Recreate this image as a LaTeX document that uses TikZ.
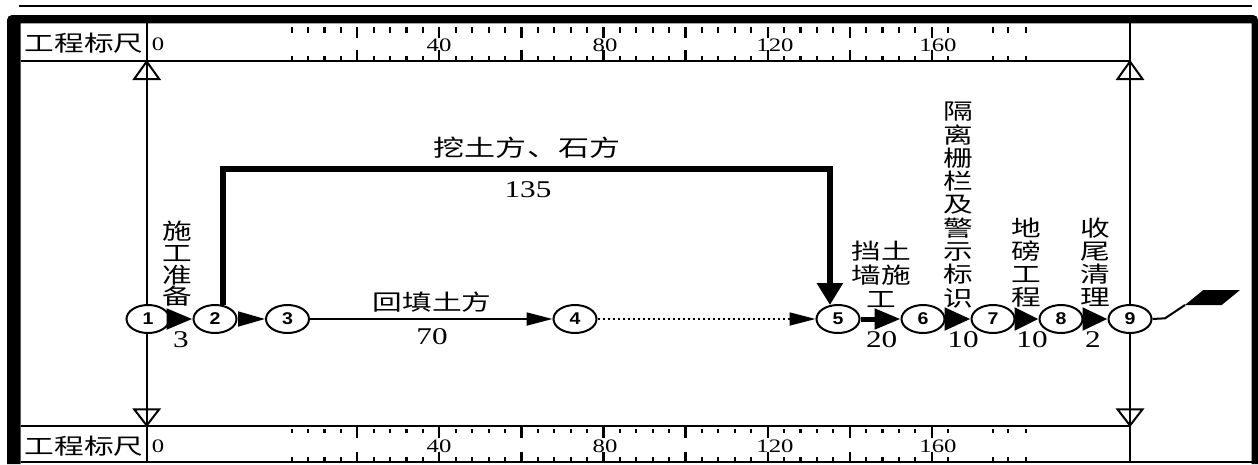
\documentclass[tikz,border=0pt]{standalone}
\usepackage{fontspec}
\setmainfont{Liberation Serif}[FakeStretch=1.3]
\newfontfamily\cjk{Noto Sans CJK SC}[FakeStretch=1.35]
\newfontfamily\numf{Liberation Sans}[FakeStretch=1.15]
\usetikzlibrary{shapes.geometric,arrows.meta}
\tikzset{
 ev/.style={ellipse, draw, line width=2pt, fill=white, minimum width=43pt, minimum height=28pt, inner sep=0pt, font=\numf\bfseries\fontsize{17}{17}\selectfont},
 crit/.style={line width=5pt, -{Triangle[length=26pt,width=20pt]}},
 nc/.style={line width=1.8pt, -{Triangle[length=26pt,width=13pt]}},
 lbl/.style={font=\cjk\fontsize{22}{23}\selectfont, inner sep=0pt, align=center},
 numlbl/.style={font=\fontsize{24}{24}\selectfont, inner sep=0pt},
 rnum/.style={font=\fontsize{19}{19}\selectfont, inner sep=0pt},
 zlbl/.style={font=\fontsize{19}{19}\selectfont, inner sep=0pt},
 rule/.style={line width=2pt},
 tk/.style={line width=2.2pt},
}
\begin{document}
\begin{tikzpicture}[x=1pt,y=-1pt]
\useasboundingbox (0,0) rectangle (1258,464);
% outer frame
\draw[line width=2.2pt] (19,6.3) -- (1251.7,6.3);
\fill (20.7,464) -- (7,464) {[rounded corners=5pt] -- (7,15) -- (1258,15)} -- (1258,464) -- (1251.7,464) -- (1251.7,23.3) -- (20.7,23.3) -- cycle;
\draw[line width=1.5pt] (20.7,462) -- (1251.7,462);
% rulers
\draw[rule] (20.7,61) -- (1130,61);
\draw[rule] (20.7,426) -- (1130,426);
\draw[rule] (146.7,23.3) -- (146.7,462);
\draw[rule] (1130,23.3) -- (1130,462);
\foreach \xa in {146.7,1130}{
  \draw[rule] (\xa,61.5) -- (\xa-12.5,79) -- (\xa+12.5,79) -- cycle;
  \draw[rule] (\xa,425.5) -- (\xa-12.5,409.3) -- (\xa+12.5,409.3) -- cycle;
}
\foreach \k in {0,...,40}{
  \pgfmathsetmacro\xx{291.7+16.41*\k}
  \pgfmathtruncatemacro\m{mod(\k,5)}
  \ifnum\m=4
    \draw[tk] (\xx,27.3) -- (\xx,38.3) (\xx,50) -- (\xx,61)
              (\xx,426) -- (\xx,438) (\xx,451.7) -- (\xx,462);
  \else
    \draw[tk] (\xx,27.3) -- (\xx,33.3) (\xx,56) -- (\xx,61)
              (\xx,429) -- (\xx,433.3) (\xx,457.3) -- (\xx,462);
  \fi
}
\foreach \xx in {992.7,1008.3,1026}{
  \draw[tk] (\xx,27.3) -- (\xx,33.3) (\xx,56) -- (\xx,61)
            (\xx,429) -- (\xx,433.3) (\xx,457.3) -- (\xx,462);
}
\node[lbl] (rt) at (84,43) {工程标尺};
\node[lbl] (rb) at (84,445.7) {工程标尺};
\node[zlbl] (z1) at (158,44) {0};
\node[zlbl] (z2) at (158,446) {0};
\foreach \v/\xv in {40/439,80/605,120/775,160/938}{
  \node[rnum] at (\xv,45) {\v};
  \node[rnum] at (\xv,446.7) {\v};
}
% event nodes
\node[ev] (n1) at (148,319) {1};
\node[ev] (n2) at (215,319) {2};
\node[ev] (n3) at (287.5,319) {3};
\node[ev] (n4) at (575,319) {4};
\node[ev] (n5) at (838,319) {5};
\node[ev] (n6) at (923,319) {6};
\node[ev] (n7) at (993,319) {7};
\node[ev] (n8) at (1061,319) {8};
\node[ev] (n9) at (1130,319) {9};
% activities
\draw[crit] (n1) -- (n2);
\draw[nc, -{Triangle[length=27pt,width=15pt]}] (n2) -- (n3);
\draw[nc] (n3) -- (n4);
\draw[nc, dash pattern=on 2pt off 3pt] (n4) -- (n5);
\coordinate (archtop) at (0,169);
\draw[crit, line width=5.5pt, -{Triangle[length=22pt,width=25pt]}] (n2.60) -- (n2.60 |- archtop) -| (n5.120);
\draw[crit] (n5) -- (n6);
\draw[crit, -{Triangle[length=26pt,width=22pt]}] (n6) -- (n7);
\draw[crit, -{Triangle[length=24pt,width=22pt]}] (n7) -- (n8);
\draw[crit, -{Triangle[length=25pt,width=22pt]}] (n8) -- (n9);
% end flag
\coordinate (fa) at (1165,318.3);
\coordinate (fb) at (1185,305);
\draw[line width=2pt] (n9.east) -- (fa) -- (fb);
\fill (fb) -- (1203.3,290) -- (1240,290) -- (1221.7,305) -- cycle;
% labels
\node[lbl, font=\cjk\fontsize{22}{21.7}\selectfont] (t12) at (177,264) {施\\工\\准\\备};
\node[numlbl] (d12) at (181,340) {3};
\node[lbl, font=\cjk\fontsize{23}{23}\selectfont] (t25) at (527,148) {挖土方、石方};
\node[numlbl] (d25) at (528,190) {135};
\node[lbl] (t34) at (432,302) {回填土方};
\node[numlbl] (d34) at (432,337) {70};
\node[lbl, font=\cjk\fontsize{22}{24}\selectfont] (t56) at (881,274) {挡土\\墙施\\工};
\node[numlbl] (d56) at (881.7,340) {20};
\node[lbl, font=\cjk\fontsize{22}{23.3}\selectfont] (t67) at (958.3,205) {隔\\离\\栅\\栏\\及\\警\\示\\标\\识};
\node[numlbl] (d67) at (963,340) {10};
\node[lbl] (t78) at (1026.7,262.3) {地\\磅\\工\\程};
\node[numlbl] (d78) at (1032,340) {10};
\node[lbl] (t89) at (1095,262.3) {收\\尾\\清\\理};
\node[numlbl] (d89) at (1093,340) {2};
\end{tikzpicture}
\end{document}
